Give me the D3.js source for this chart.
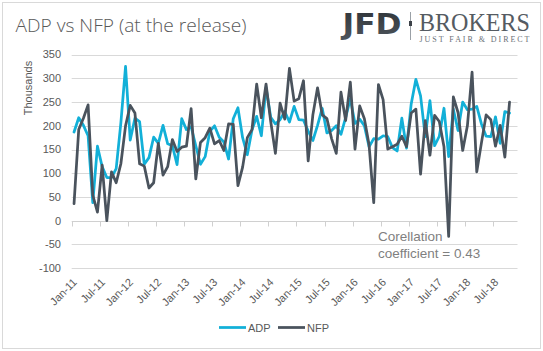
<!DOCTYPE html>
<html>
<head>
<meta charset="utf-8">
<script src="https://cdn.jsdelivr.net/npm/d3@7/dist/d3.min.js"></script>
<style>
  html, body { margin: 0; padding: 0; background: #ffffff; }
  svg { display: block; }
</style>
</head>
<body>
<svg id="chart" width="543" height="351"></svg>
<script>
// ---------- DATA ----------
const startYear = 2011;
const seriesNames = ["ADP", "NFP"];
const adp = [
  187, 217, 201, 179, 38, 157, 114, 91, 91, 110, 206, 325,
  170, 216, 209, 119, 133, 176, 163, 201, 162, 158, 118, 215,
  192, 198, 158, 119, 135, 188, 200, 176, 166, 130, 215, 238,
  175, 139, 191, 220, 179, 281, 218, 204, 213, 230, 208, 241,
  213, 212, 189, 169, 201, 237, 185, 190, 200, 182, 217, 257,
  205, 214, 200, 156, 173, 172, 179, 177, 154, 147, 216, 153,
  246, 298, 263, 177, 253, 158, 178, 237, 135, 235, 190, 250,
  234, 235, 241, 204, 178, 177, 219, 163, 230, 227
];
const nfp = [
  36, 192, 216, 244, 54, 18, 117, 0, 103, 80, 120, 200,
  243, 227, 120, 115, 69, 80, 163, 96, 114, 171, 146, 155,
  157, 236, 88, 165, 175, 195, 162, 169, 148, 204, 203, 74,
  113, 175, 192, 288, 217, 288, 209, 142, 248, 214, 321, 252,
  257, 295, 126, 223, 280, 223, 215, 173, 142, 271, 211, 292,
  151, 242, 215, 160, 38, 287, 255, 151, 156, 161, 178, 156,
  227, 235, 98, 211, 138, 222, 209, 156, -33, 261, 228, 148,
  200, 313, 103, 164, 223, 213, 157, 201, 134, 250
];
const yTicks = [-100, -50, 0, 50, 100, 150, 200, 250, 300, 350];
const monthNames = ["Jan","Feb","Mar","Apr","May","Jun","Jul","Aug","Sep","Oct","Nov","Dec"];
const tickMonths = d3.range(0, 91, 6); // Jan-11 .. Jul-18
const tickLabels = tickMonths.map(m => monthNames[m % 12] + "-" + String((startYear + Math.floor(m / 12)) % 100).padStart(2, "0"));
const titleText = "ADP vs NFP (at the release)";
const yAxisTitle = "Thousands";
const noteLines = ["Corellation", "coefficient = 0.43"];

// ---------- STYLE ----------
const colors = { ADP: "#12b0d8", NFP: "#4a535d" };
const textColor = "#595959";
const gridColor = "#d9d9d9";
const fontFamily = "'Liberation Sans', Arial, sans-serif";

const svg = d3.select("#chart");

// outer border
svg.append("rect")
  .attr("x", 2.5).attr("y", 2.5).attr("width", 538).attr("height", 346)
  .attr("fill", "#fff").attr("stroke", "#d9d9d9").attr("stroke-width", 1);

// scales
const x = d3.scaleLinear().domain([0, 95.2]).range([71.7, 517.5]);
const y = d3.scaleLinear().domain([-100, 350]).range([268.2, 54.6]);

function fitWidth(sel, target) {
  const node = sel.node();
  const fs = parseFloat(sel.attr("font-size"));
  const w = node.getComputedTextLength();
  if (w > 0) sel.attr("font-size", (fs * target / w).toFixed(2));
}

// title
const title = svg.append("text")
  .attr("x", 15.5).attr("y", 32)
  .attr("font-family", "'Open Sans', 'Liberation Sans', sans-serif")
  .attr("font-weight", 300)
  .attr("font-size", 19)
  .attr("fill", textColor)
  .text(titleText);
fitWidth(title, 231);

// logo
const grad = svg.append("defs").append("linearGradient")
  .attr("id", "jfdGrad").attr("x1", 0).attr("y1", 0).attr("x2", 0).attr("y2", 1);
grad.append("stop").attr("offset", "0%").attr("stop-color", "#2e3338");
grad.append("stop").attr("offset", "100%").attr("stop-color", "#4d545b");
const logo = svg.append("g");
logo.append("text")
  .attr("x", 342.5).attr("y", 33.5)
  .attr("font-family", "'DejaVu Sans Condensed', 'DejaVu Sans', sans-serif")
  .attr("font-stretch", "condensed")
  .attr("font-weight", 700)
  .attr("font-size", 27.5)
  .attr("fill", "url(#jfdGrad)")
  .attr("textLength", 59)
  .attr("lengthAdjust", "spacingAndGlyphs")
  .text("JFD");
logo.append("line")
  .attr("x1", 410.5).attr("x2", 410.5).attr("y1", 12).attr("y2", 40)
  .attr("stroke", "#9aa0a6").attr("stroke-width", 1);
logo.append("rect")
  .attr("x", 409).attr("y", 21).attr("width", 3).attr("height", 5)
  .attr("fill", "#3c4248");
logo.append("text")
  .attr("x", 419).attr("y", 30.5)
  .attr("font-family", "'Liberation Serif', 'DejaVu Serif', serif")
  .attr("font-size", 25)
  .attr("fill", "#555b62")
  .attr("textLength", 111)
  .attr("lengthAdjust", "spacingAndGlyphs")
  .text("BROKERS");
logo.append("text")
  .attr("x", 419.5).attr("y", 41.5)
  .attr("font-family", "'Liberation Serif', 'DejaVu Serif', serif")
  .attr("font-size", 8)
  .attr("fill", "#6b7077")
  .attr("textLength", 110)
  .attr("lengthAdjust", "spacing")
  .text("JUST FAIR & DIRECT");

// gridlines
svg.append("g").selectAll("line").data(yTicks).join("line")
  .attr("x1", x.range()[0]).attr("x2", x.range()[1])
  .attr("y1", d => Math.round(y(d)) + 0.5).attr("y2", d => Math.round(y(d)) + 0.5)
  .attr("stroke", d => d === 0 ? "#d0d0d0" : gridColor)
  .attr("stroke-width", 1);

// y axis labels
svg.append("g").selectAll("text").data(yTicks).join("text")
  .attr("x", 61).attr("y", d => y(d))
  .attr("dy", "0.35em")
  .attr("text-anchor", "end")
  .attr("font-family", fontFamily)
  .attr("font-size", 11)
  .attr("fill", textColor)
  .text(d => d);

// y axis title
svg.append("text")
  .attr("transform", "translate(32,88) rotate(-90)")
  .attr("text-anchor", "middle")
  .attr("font-family", fontFamily)
  .attr("font-size", 11)
  .attr("fill", textColor)
  .text(yAxisTitle);

// x ticks at zero line
const y0 = Math.round(y(0)) + 0.5;
svg.append("g").selectAll("line").data(tickMonths).join("line")
  .attr("x1", d => Math.round(x(d)) + 0.5).attr("x2", d => Math.round(x(d)) + 0.5)
  .attr("y1", y0).attr("y2", y0 + 5)
  .attr("stroke", "#d0d0d0").attr("stroke-width", 1);

// x labels
svg.append("g").selectAll("text").data(tickMonths).join("text")
  .attr("transform", (d) => `translate(${x(d) + 6},${283}) rotate(-45)`)
  .attr("text-anchor", "end")
  .attr("font-family", fontFamily)
  .attr("font-size", 11)
  .attr("fill", textColor)
  .text((d, i) => tickLabels[i]);

// lines
const line = d3.line().x((d, i) => x(i + 0.5)).y(d => y(d)).curve(d3.curveLinear);
svg.append("path").datum(adp)
  .attr("d", line).attr("fill", "none")
  .attr("stroke", colors.ADP).attr("stroke-width", 2.75)
  .attr("stroke-linejoin", "round").attr("stroke-linecap", "round");
svg.append("path").datum(nfp)
  .attr("d", line).attr("fill", "none")
  .attr("stroke", colors.NFP).attr("stroke-width", 2.75)
  .attr("stroke-linejoin", "round").attr("stroke-linecap", "round");

// annotation
const note = svg.append("g")
  .attr("font-family", fontFamily)
  .attr("font-size", 13.5)
  .attr("fill", "#7f7f7f");
note.selectAll("text").data(noteLines).join("text")
  .attr("x", 378).attr("y", (d, i) => 240.5 + i * 17)
  .text(d => d);

// legend
const legendItems = [
  { name: seriesNames[0], x: 219 },
  { name: seriesNames[1], x: 278 }
];
const lg = svg.append("g");
legendItems.forEach(it => {
  lg.append("line")
    .attr("x1", it.x).attr("x2", it.x + 27)
    .attr("y1", 327.5).attr("y2", 327.5)
    .attr("stroke", colors[it.name]).attr("stroke-width", 2.75);
  lg.append("text")
    .attr("x", it.x + 29).attr("y", 331.5)
    .attr("font-family", fontFamily)
    .attr("font-size", 11)
    .attr("fill", textColor)
    .text(it.name);
});
</script>
</body>
</html>
